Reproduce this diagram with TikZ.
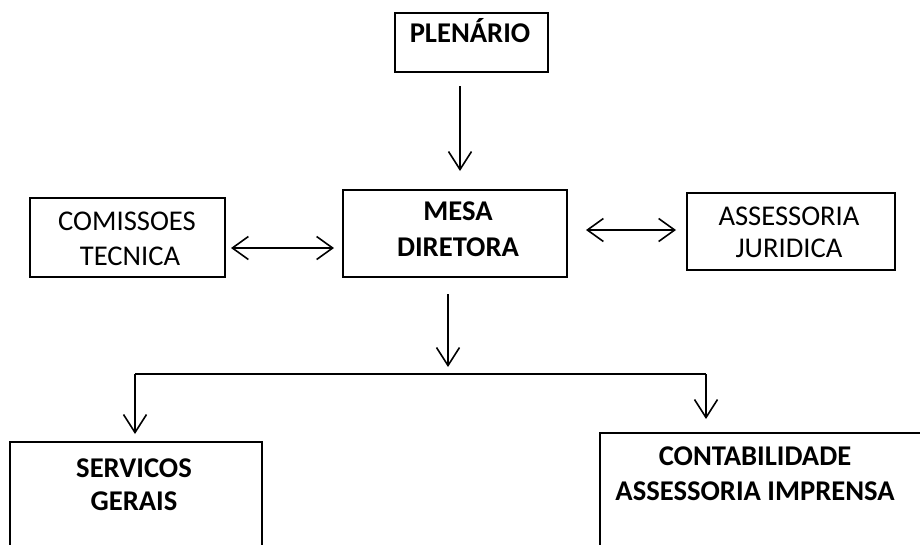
\documentclass[tikz,border=0pt]{standalone}
\usepackage{fontspec}
\setmainfont{Carlito}
\usetikzlibrary{arrows.meta}
\tikzset{
  box/.style={draw=black, line width=2pt, fill=none, inner sep=0pt},
  conn/.style={draw=black, line width=1.6pt},
  arr/.style={conn, -{Straight Barb[length=18pt,width=23pt,line width=1.6pt]}},
  darr/.style={conn, {Straight Barb[length=16pt,width=23pt,line width=1.6pt]}-{Straight Barb[length=16pt,width=23pt,line width=1.6pt]}},
  lbl/.style={anchor=base, inner sep=0pt, font=\fontsize{28.6}{34}\selectfont},
  blbl/.style={lbl, font=\fontsize{28.6}{34}\selectfont\bfseries},
}
\begin{document}
\begin{tikzpicture}[x=1pt,y=-1pt]
\clip (0,0) rectangle (920,544);
\fill[white] (0,0) rectangle (920,544);
% boxes
\node[box, minimum width=153pt, minimum height=59pt] (plen) at (471.5,42.5) {};
\node[box, minimum width=224pt, minimum height=87pt] (mesa) at (455,233.5) {};
\node[box, minimum width=195pt, minimum height=79pt] (com) at (127.5,237.5) {};
\node[box, minimum width=208pt, minimum height=77pt] (ass) at (791,231.5) {};
\node[box, minimum width=252pt, minimum height=140pt] (serv) at (136,512) {};
\node[box, minimum width=330pt, minimum height=160pt] (cont) at (765,513) {};
% texts
\node[blbl] (tplen) at (470,42) {PLENÁRIO};
\node[blbl] (tmesa1) at (458,220) {MESA};
\node[blbl] (tmesa2) at (458,256) {DIRETORA};
\node[lbl] (tcom1) at (127,230) {COMISSOES};
\node[lbl] (tcom2) at (130,265) {TECNICA};
\node[lbl] (tass1) at (789,225) {ASSESSORIA};
\node[lbl] (tass2) at (789,257) {JURIDICA};
\node[blbl] (tserv1) at (134,477) {SERVICOS};
\node[blbl] (tserv2) at (134,510) {GERAIS};
\node[blbl] (tcont1) at (755,465) {CONTABILIDADE};
\node[blbl] (tcont2) at (755,500) {ASSESSORIA IMPRENSA};
% helper coordinates
\coordinate (xa) at (460,0);
\coordinate (xb) at (448,0);
\coordinate (ya) at (0,248);
\coordinate (yb) at (0,230);
\coordinate (split) at (448,374);
\coordinate (lj) at (135,374);
\coordinate (rj) at (706,374);
% connectors
\draw[arr, shorten <=13pt, shorten >=18pt] (plen.south -| xa) -- (mesa.north -| xa);
\draw[darr, shorten <=5pt, shorten >=8pt] (com.east |- ya) -- (mesa.west |- ya);
\draw[darr, shorten <=18pt, shorten >=10pt] (mesa.east |- yb) -- (ass.west |- yb);
\draw[arr, shorten <=16pt, shorten >=7pt] (mesa.south -| xb) -- (split);
\draw[conn] (lj) -- (rj);
\draw[arr, shorten >=7pt] (lj) -- (serv.north -| lj);
\draw[arr, shorten >=13pt] (rj) -- (cont.north -| rj);
\end{tikzpicture}
\end{document}
